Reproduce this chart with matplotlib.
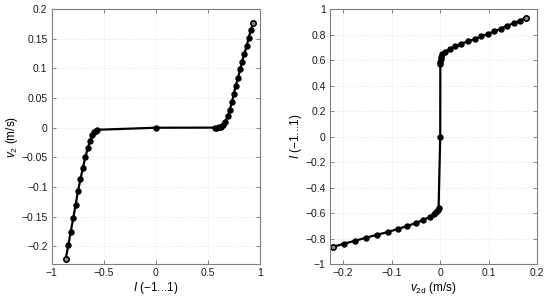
import numpy as np
import matplotlib
matplotlib.use("Agg")
import matplotlib.pyplot as plt

plt.rcParams['font.family'] = ['Liberation Sans', 'DejaVu Sans']
plt.rcParams['mathtext.fontset'] = 'custom'
plt.rcParams['mathtext.rm'] = 'Liberation Sans'
plt.rcParams['mathtext.it'] = 'Liberation Sans:italic'
plt.rcParams['font.size'] = 7.5

# =============================
# DATA
# =============================
# input I (-1...1) and resulting velocity v2 (m/s)
I_vals = [-0.866, -0.840, -0.818, -0.794, -0.770, -0.748, -0.724, -0.701, -0.677,
          -0.654, -0.632, -0.610, -0.594, -0.578, -0.562,
          0.0,
          0.568, 0.586, 0.607, 0.628, 0.646, 0.664, 0.688, 0.709, 0.730, 0.748,
          0.766, 0.787, 0.808, 0.826, 0.847, 0.871, 0.889, 0.910, 0.934]
v_vals = [-0.2218, -0.1976, -0.176, -0.153, -0.130, -0.107, -0.0867, -0.0676, -0.0495,
          -0.0349, -0.022, -0.0129, -0.0078, -0.005, -0.0034,
          0.0,
          0.0002, 0.0004, 0.0008, 0.0015, 0.0040, 0.0102, 0.0191, 0.0307, 0.0437, 0.0574,
          0.0711, 0.0841, 0.0985, 0.1115, 0.1245, 0.1375, 0.1512, 0.1642, 0.1765]

left_xticks = [-1, -0.5, 0, 0.5, 1]
left_yticks = [-0.2, -0.15, -0.1, -0.05, 0, 0.05, 0.1, 0.15, 0.2]
right_xticks = [-0.2, -0.1, 0, 0.1, 0.2]
right_yticks = [-1, -0.8, -0.6, -0.4, -0.2, 0, 0.2, 0.4, 0.6, 0.8, 1]


def fmt(t):
    s = ("%g" % t)
    return s.replace("-", "\u2212")


def style_axes(ax, xt, yt):
    ax.set_xticks(xt)
    ax.set_yticks(yt)
    ax.set_xticklabels([fmt(t) for t in xt])
    ax.set_yticklabels([fmt(t) for t in yt])
    ax.tick_params(direction="in", top=True, right=True, length=3, width=0.6,
                   color="0.45", labelcolor="0.1", pad=3)
    ax.grid(True, linestyle=":", linewidth=0.5, color="0.87")
    for s in ax.spines.values():
        s.set_color("0.5")
        s.set_linewidth(0.8)


def draw(ax, x, y):
    ax.plot(x, y, color="black", lw=1.6, marker="o", ms=3.6, mfc="black", mec="black")
    ax.plot([x[0], x[-1]], [y[0], y[-1]], ls="none", marker="o", ms=3.8,
            mfc="0.55", mec="black", mew=1.1)


fig = plt.figure(figsize=(5.5, 2.98), dpi=100)
ax1 = fig.add_axes([0.094, 0.114, 0.379, 0.855])
ax2 = fig.add_axes([0.600, 0.114, 0.377, 0.855])

draw(ax1, I_vals, v_vals)
ax1.set_xlim(-1, 1)
ax1.set_ylim(-0.23, 0.2)
style_axes(ax1, left_xticks, left_yticks)
ax1.set_xlabel("$I$ (\u22121...1)", labelpad=1, fontsize=8.5)
ax1.set_ylabel("$v_2$ (m/s)", labelpad=1, fontsize=8.5)

draw(ax2, v_vals, I_vals)
ax2.set_xlim(-0.227, 0.2)
ax2.set_ylim(-1, 1)
style_axes(ax2, right_xticks, right_yticks)
ax2.set_xlabel("$v_{\\mathrm{2d}}$ (m/s)", labelpad=1, fontsize=8.5)
ax2.set_ylabel("$I$ (\u22121...1)", labelpad=1, fontsize=8.5)

fig.savefig("out.png", dpi=100)
